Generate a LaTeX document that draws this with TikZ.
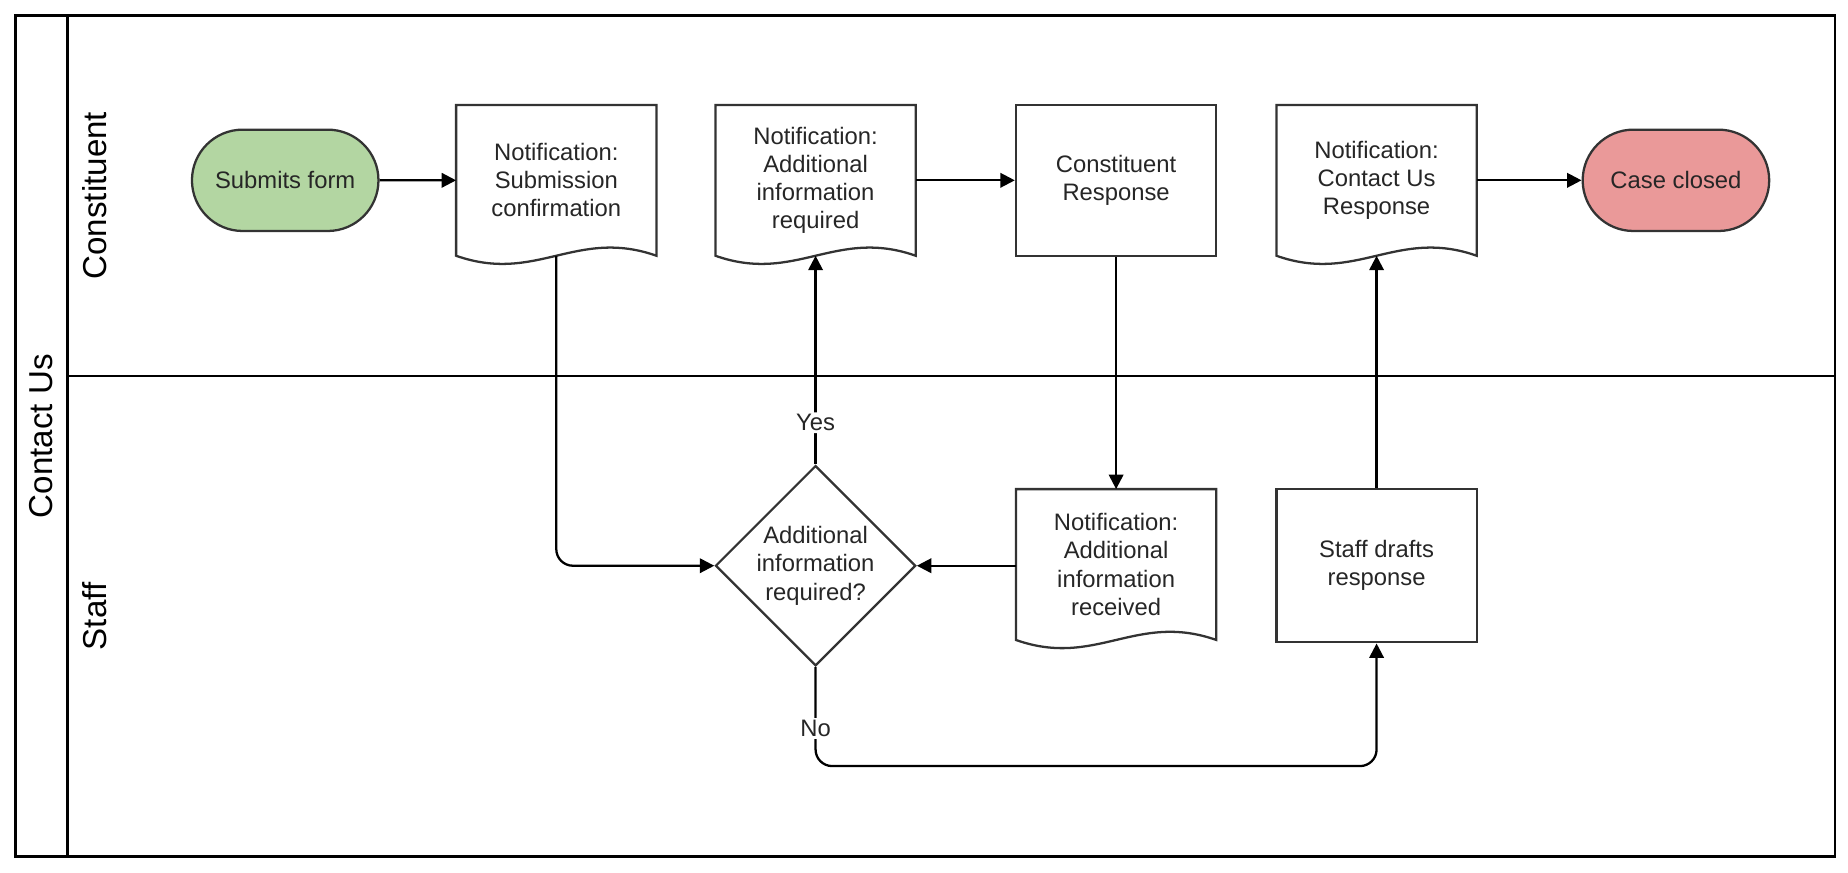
\documentclass[tikz,border=0pt]{standalone}
\usepackage{fontspec}
\setmainfont{Liberation Sans}
\usetikzlibrary{shapes.geometric,shapes.misc,arrows.meta}

\definecolor{startgreen}{HTML}{B3D6A2}
\definecolor{endred}{HTML}{EA9999}
\definecolor{linegray}{HTML}{333333}

% document shape with wavy bottom: name, left, top, right, bottom, text
\newcommand{\docnode}[6]{%
  \node[txt] (#1) at ({(#2+#4)/2},{(#3+#5)/2}) {#6};
  \draw[box] (#2,#5) -- (#2,#3) -- (#4,#3) -- (#4,#5)
    .. controls ({#4-0.4*(#4-#2)},{#5-24}) and ({#2+0.4*(#4-#2)},{#5+24}) .. cycle;
  \coordinate (#1b) at ({(#2+#4)/2},#5);
}

\begin{document}
\begin{tikzpicture}[x=0.02cm,y=-0.02cm,
    box/.style={draw=linegray,line width=1.1pt},
    txt/.style={font=\fontsize{11.5}{13.6}\selectfont,align=center,text=black!85},
    term/.style={box,rounded rectangle,minimum width=3.4cm,minimum height=1.72cm,txt},
    proc/.style={box,rectangle,minimum width=3.4cm,txt},
    flow/.style={line width=1.1pt,draw=black,-{Triangle[length=7pt,width=7pt]},rounded corners=8pt},
    lbl/.style={txt,fill=white,inner sep=1pt},
    lane/.style={font=\fontsize{16}{18}\selectfont,rotate=90}]
  \useasboundingbox (0,0) rectangle (1568,740);
  % pool and lanes
  \draw[line width=1.3pt] (13,13) rectangle (1557,727);
  \draw[line width=1.3pt] (57,13) -- (57,727);
  \draw[line width=1.3pt] (57,319) -- (1557,319);
  \node[lane] (pool) at (35,370) {Contact Us};
  \node[lane] (constituent) at (80,166) {Constituent};
  \node[lane] (staff) at (80,523) {Staff};

  % constituent lane
  \node[term,fill=startgreen] (submit) at (242,153) {Submits form};
  \docnode{confirm}{387}{89}{557}{217}{Notification:\\Submission\\confirmation}
  \docnode{addreq}{607}{89}{777}{217}{Notification:\\Additional\\information\\required}
  \node[proc,minimum height=2.56cm] (response) at (947,153) {Constituent\\Response};
  \docnode{contact}{1083}{89}{1253}{217}{Notification:\\Contact Us\\Response}
  \node[term,fill=endred] (closed) at (1422,153) {Case closed};

  % staff lane
  \node[diamond,box,minimum width=3.4cm,minimum height=3.4cm,inner sep=0pt,txt] (decide) at (692,480) {Additional\\information\\required?};
  \docnode{received}{862}{415}{1032}{543}{Notification:\\Additional\\information\\received}
  \node[proc,minimum height=2.6cm] (drafts) at (1168,480) {Staff drafts\\response};

  % connectors
  \draw[flow] (submit) -- (387,153);
  \draw[flow] (confirmb) |- (decide.west);
  \draw[flow] (decide.north) -- node[lbl,pos=0.2] {Yes} (addreqb);
  \draw[flow] (777,153) -- (response);
  \draw[flow] (response) -- (947,415);
  \draw[flow] (862,480) -- (decide.east);
  \coordinate (turn) at (692,650);
  \draw[flow] (decide.south) -- node[lbl,pos=0.62] {No} (turn) -| (drafts.south);
  \draw[flow] (drafts.north) -- (contactb);
  \draw[flow] (1253,153) -- (closed);
\end{tikzpicture}
\end{document}
